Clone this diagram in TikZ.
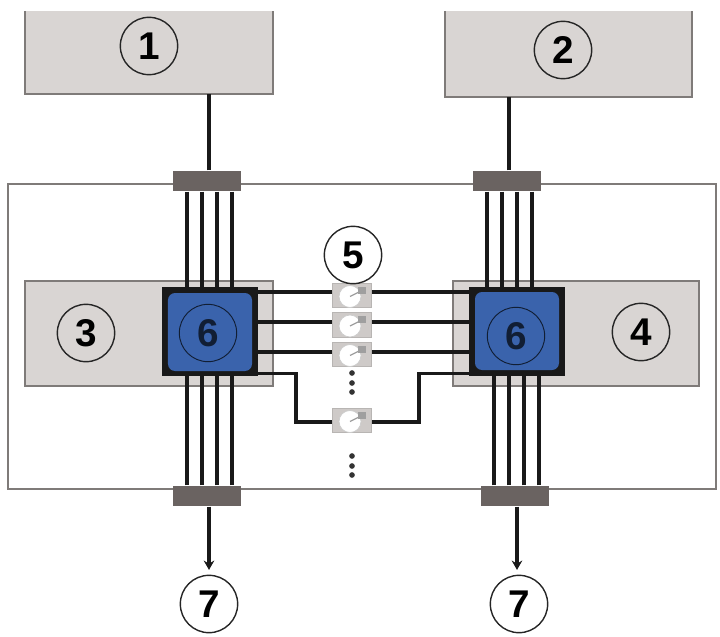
\documentclass[tikz,border=0pt]{standalone}
\usepackage{fontspec}
\setmainfont{Liberation Sans}
\usetikzlibrary{arrows.meta, positioning}
\definecolor{boxgray}{HTML}{D9D5D3}
\definecolor{edgegray}{HTML}{7F7B79}
\definecolor{portgray}{HTML}{6A6361}
\definecolor{chipblue}{HTML}{3A63AC}
\begin{document}
\begin{tikzpicture}[
    x=0.03cm, y=-0.03cm,
    block/.style={draw=edgegray, fill=boxgray, line width=1.4pt, inner sep=0pt},
    topblock/.style={fill=boxgray, inner sep=0pt},
    port/.style={fill=portgray, minimum width=2.04cm, minimum height=0.62cm, inner sep=0pt},
    chip/.style={fill=black!90, minimum width=2.88cm, minimum height=2.67cm, inner sep=0pt},
    core/.style={fill=chipblue, rounded corners=6pt, minimum width=2.52cm, minimum height=2.34cm, inner sep=0pt},
    tag/.style={circle, draw=black!85, line width=1.2pt, minimum size=1.72cm, inner sep=0pt, font=\fontsize{33}{34}\selectfont\bfseries},
    coretag/.style={tag, draw=black!70!chipblue, text=black!70!chipblue, line width=0.8pt},
    shifter/.style={draw=boxgray!85!black, fill=boxgray!95!black, line width=0.8pt, minimum width=1.17cm, minimum height=0.74cm, inner sep=0pt},
    dial/.style={circle, fill=white, draw=white!80!black, line width=0.6pt, minimum size=0.66cm, inner sep=0pt},
    wire/.style={line width=3pt, black!90},
    dotmark/.style={circle, fill=black!80, minimum size=0.17cm, inner sep=0pt}
]
  \useasboundingbox (0,0) rectangle (720,637);

  % Outer frame and the blocks on it
  \node[draw=edgegray, line width=1.4pt, minimum width=21.24cm, minimum height=9.15cm] (frame) at (362,336.5) {};
  \node[topblock, minimum width=7.44cm, minimum height=2.49cm] (top1) at (149,52.5) {};
  \node[topblock, minimum width=7.41cm, minimum height=2.58cm] (top2) at (568.5,54) {};
  \draw[edgegray, line width=1.6pt] (top1.north west) -- (top1.south west) -- (top1.south east) -- (top1.north east);
  \draw[edgegray, line width=1.6pt] (top2.north west) -- (top2.south west) -- (top2.south east) -- (top2.north east);
  \node[block, minimum width=7.44cm, minimum height=3.15cm] (lane3) at (149,333.5) {};
  \node[block, minimum width=7.38cm, minimum height=3.15cm] (lane4) at (576,333.5) {};

  % Ports
  \node[port] (pa) at (207,181) {};
  \node[port] (pb) at (507,181) {};
  \node[port] (pc) at (207,496) {};
  \node[port] (pd) at (515,496) {};

  % Chips
  \node[chip] (chipa) at (210,331.5) {};
  \node[chip] (chipb) at (517,331.5) {};
  \node[core] (corea) at (210,332) {};
  \node[core] (coreb) at (517,331) {};
  \node[coretag] (taga) at (208,333) {6};
  \node[coretag] (tagb) at (516,336) {6};

  % Lanes between ports and chips
  \foreach \off in {-20,-5,10,25} {
    \draw[wire] ([xshift=\off*0.03cm]pa.south) -- ([xshift=\off*0.03cm]pa.south |- chipa.north);
    \draw[wire] ([xshift=\off*0.03cm]pb.south) -- ([xshift=\off*0.03cm]pb.south |- chipb.north);
    \draw[wire] ([xshift=\off*0.03cm]pc.north) -- ([xshift=\off*0.03cm]pc.north |- chipa.south);
    \draw[wire] ([xshift=\off*0.03cm-0.03cm]pd.north) -- ([xshift=\off*0.03cm-0.03cm]pd.north |- chipb.south);
  }

  % Shifters
  \foreach \id/\yy in {1/295.5, 2/325, 3/354.5, 4/420.5} {
    \node[shifter] (ps\id) at (352,\yy) {};
    \node[dial] (dl\id) at ([xshift=-0.06cm,yshift=-0.03cm]ps\id.center) {};
    \fill[gray!75] ([xshift=0.18cm,yshift=0.26cm]ps\id.center) rectangle ([xshift=0.42cm,yshift=0.05cm]ps\id.center);
    \draw[gray!75, line width=1pt] (dl\id.center) -- ([xshift=0.3cm,yshift=0.15cm]ps\id.center);
  }

  % Links through the shifters
  \foreach \id/\yy in {1/292, 2/322, 3/352} {
    \coordinate (la\id) at (258,\yy);
    \coordinate (lb\id) at (470,\yy);
    \draw[wire] (la\id) -- (ps\id.west |- la\id);
    \draw[wire] (ps\id.east |- lb\id) -- (lb\id);
  }
  \coordinate (la4) at (258,373.5);
  \coordinate (lb4) at (470,373.5);
  \coordinate (ja) at (296,422);
  \coordinate (jb) at (419,422);
  \draw[wire] (la4) -| (ja) -- (ps4.west |- ja);
  \draw[wire] (lb4) -| (jb) -- (ps4.east |- jb);

  % Dots
  \foreach \yy in {373,383,392,456,466,475}
    \node[dotmark] (dot\yy) at (352,\yy) {};

  % Numbered tags
  \node[tag] (t1) at (149,46) {1};
  \node[tag] (t2) at (563,50) {2};
  \node[tag] (t3) at (86,333) {3};
  \node[tag] (t4) at (641,332) {4};
  \node[tag] (t5) at (353,255) {5};
  \node[tag] (t7a) at (209,604) {7};
  \node[tag] (t7b) at (519,604) {7};

  % Feeds
  \draw[wire] ([xshift=0.06cm]pa.north) -- ([xshift=0.06cm]pa.north |- top1.south);
  \draw[wire] ([xshift=0.06cm]pb.north) -- ([xshift=0.06cm]pb.north |- top2.south);
  \draw[wire, -{Stealth[length=8pt, width=9pt]}, shorten >=4pt] ([xshift=0.06cm]pc.south) -- ([xshift=0.06cm]pc.south |- t7a.north);
  \draw[wire, -{Stealth[length=8pt, width=9pt]}, shorten >=4pt] ([xshift=0.06cm]pd.south) -- ([xshift=0.06cm]pd.south |- t7b.north);
\end{tikzpicture}
\end{document}
